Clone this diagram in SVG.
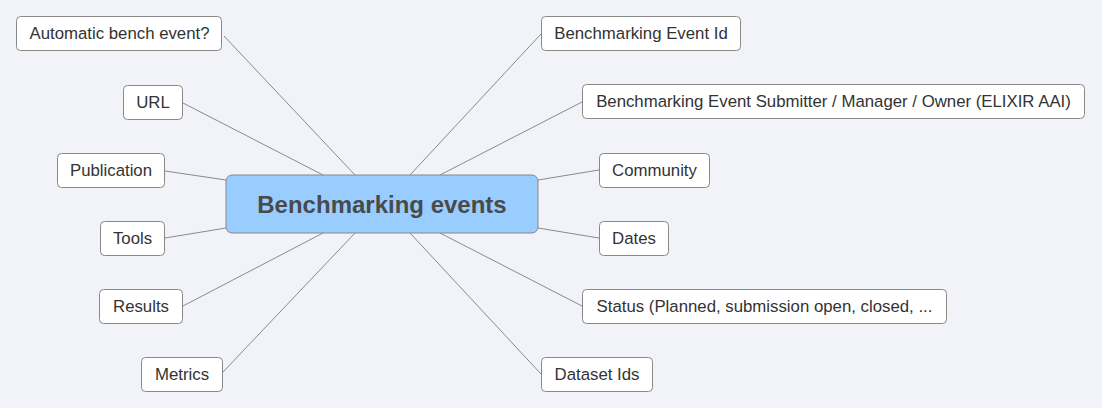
<svg xmlns="http://www.w3.org/2000/svg" width="1102" height="408" viewBox="0 0 1102 408">
<style>
.leaf rect{fill:#ffffff;stroke:#888888;stroke-width:1}
.leaf text{font-family:"Liberation Sans",Arial,sans-serif;font-size:16.8px;fill:#333333;text-anchor:middle;dominant-baseline:central}
.conn line{stroke:#8a8a8a;stroke-width:1}
</style>
<rect width="1102" height="408" fill="#f2f3f8"/>
<g class="conn">
<line x1="224" y1="36" x2="355" y2="175"/>
<line x1="183" y1="103" x2="323" y2="175"/>
<line x1="165" y1="171" x2="226" y2="180"/>
<line x1="165" y1="238" x2="226" y2="228"/>
<line x1="183" y1="306" x2="323" y2="233"/>
<line x1="223" y1="372" x2="355" y2="233"/>
<line x1="541" y1="34" x2="410" y2="175"/>
<line x1="582" y1="102" x2="440" y2="175"/>
<line x1="599" y1="170" x2="538" y2="180"/>
<line x1="599" y1="238" x2="538" y2="228"/>
<line x1="582" y1="306" x2="440" y2="233"/>
<line x1="541" y1="374" x2="410" y2="233"/>
</g>
<g id="center">
<rect x="226" y="175" width="312" height="58" rx="6" fill="#99ccff" stroke="#888888"/>
<text x="382" y="204.5" font-family="Liberation Sans,Arial,sans-serif" font-size="24" font-weight="bold" fill="#4a4a4a" text-anchor="middle" dominant-baseline="central">Benchmarking events</text>
</g>
<g id="n-auto" class="leaf"><rect x="16.5" y="16.5" width="205" height="34" rx="4"/><text x="119.5" y="33.5">Automatic bench event?</text></g>
<g id="n-url" class="leaf"><rect x="123.5" y="85.5" width="59" height="34" rx="4"/><text x="153" y="102">URL</text></g>
<g id="n-pub" class="leaf"><rect x="57.5" y="153.5" width="107" height="34" rx="4"/><text x="111" y="170">Publication</text></g>
<g id="n-tools" class="leaf"><rect x="100.5" y="221.5" width="64" height="34" rx="4"/><text x="132.5" y="238">Tools</text></g>
<g id="n-results" class="leaf"><rect x="99.5" y="289.5" width="83" height="34" rx="4"/><text x="141" y="306">Results</text></g>
<g id="n-metrics" class="leaf"><rect x="141.5" y="357.5" width="81" height="34" rx="4"/><text x="182" y="374">Metrics</text></g>
<g id="n-eventid" class="leaf"><rect x="541.5" y="16.5" width="199" height="34" rx="4"/><text x="641" y="33.5">Benchmarking Event Id</text></g>
<g id="n-submitter" class="leaf"><rect x="582.5" y="84.5" width="502" height="34" rx="4"/><text x="833.5" y="101">Benchmarking Event Submitter / Manager / Owner (ELIXIR AAI)</text></g>
<g id="n-community" class="leaf"><rect x="599.5" y="153.5" width="110" height="34" rx="4"/><text x="654.5" y="170">Community</text></g>
<g id="n-dates" class="leaf"><rect x="599.5" y="221.5" width="69" height="34" rx="4"/><text x="634" y="238">Dates</text></g>
<g id="n-status" class="leaf"><rect x="582.5" y="289.5" width="364" height="34" rx="4"/><text x="764.5" y="306">Status (Planned, submission open, closed, ...</text></g>
<g id="n-dataset" class="leaf"><rect x="541.5" y="357.5" width="111" height="34" rx="4"/><text x="597" y="374">Dataset Ids</text></g>
</svg>
